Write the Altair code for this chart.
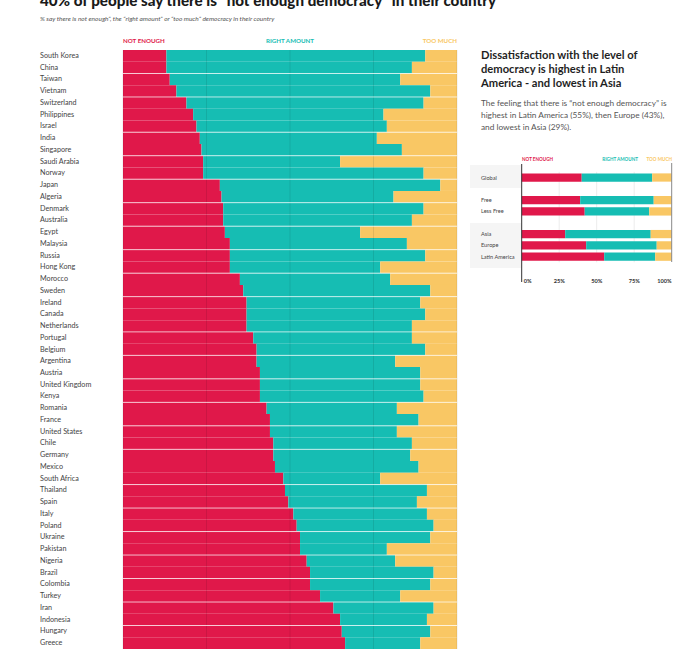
import altair as alt
import pandas as pd

countries = ["South Korea", "China", "Taiwan", "Vietnam", "Switzerland", "Philippines", "Israel",
             "India", "Singapore", "Saudi Arabia", "Norway", "Japan", "Algeria", "Denmark",
             "Australia", "Egypt", "Malaysia", "Russia", "Hong Kong", "Morocco", "Sweden",
             "Ireland", "Canada", "Netherlands", "Portugal", "Belgium", "Argentina", "Austria",
             "United Kingdom", "Kenya", "Romania", "France", "United States", "Chile", "Germany",
             "Mexico", "South Africa", "Thailand", "Spain", "Italy", "Poland", "Ukraine",
             "Pakistan", "Nigeria", "Brazil", "Colombia", "Turkey", "Iran", "Indonesia",
             "Hungary", "Greece"]
not_enough = [13, 13, 14, 16, 19, 21, 22, 23, 23.5, 24, 24, 29, 29.5, 30, 30, 30.5, 32, 32, 32,
              35, 36, 37, 37, 37, 39, 40, 40, 41, 41, 41, 43, 44, 44, 45, 45, 45.5, 48, 48.5,
              49.5, 51, 52, 53, 53, 55, 56, 56, 59, 63, 65, 65.5, 66.5]
right_amount = [77.5, 73.5, 69, 76, 71, 57, 57, 53, 60, 41, 66, 66, 51.5, 60, 56.5, 40.5, 53,
                58.5, 45, 45, 56, 52, 53.5, 49.5, 47.5, 50.5, 41.5, 48, 48, 49, 39, 44.5, 38,
                41.5, 41, 43, 29, 42.5, 38.5, 40, 41, 39, 26, 26.5, 37, 36, 24, 30, 26, 26.5,
                22.5]
too_much = [9.5, 13.5, 17, 8, 10, 22, 21, 24, 16.5, 35, 10, 5, 19, 10, 13.5, 29, 15, 9.5, 23,
            20, 8, 11, 9.5, 13.5, 13.5, 9.5, 18.5, 11, 11, 10, 18, 11.5, 18, 13.5, 14, 11.5,
            23, 9, 12, 9, 7, 8, 21, 18.5, 7, 8, 17, 7, 9, 8, 11]

inset_groups = ["Global", "Free", "Less Free", "Asia", "Europe", "Latin America"]
inset_not_enough = [40, 39, 42, 29, 43, 55]
inset_right_amount = [47, 49, 43, 57, 47, 34]
inset_too_much = [13, 12, 15, 14, 10, 11]

answers = ["Not enough", "Right amount", "Too much"]
headers = ["NOT ENOUGH", "RIGHT AMOUNT", "TOO MUCH"]
ticks = [0, 25, 50, 75, 100]
tick_labels = ["0%", "25%", "50%", "75%", "100%"]

# style
RED, TEAL, YELLOW = "#E0184A", "#16BDB3", "#F9C764"
FONT = "Lato"
W, H = 334, 599
separator_rows = [2, 4, 7, 9, 11, 13, 15, 17, 19, 21, 24, 26, 28, 30, 32, 34, 37, 39, 41, 43,
                  45, 47, 49]
inset_slots = ["Global", "gap1", "Free", "Less Free", "gap2", "Asia", "Europe", "Latin America"]

rows = []
for i, c in enumerate(countries):
    for j, v in enumerate([not_enough[i], right_amount[i], too_much[i]]):
        rows.append({"country": c, "answer": answers[j], "value": v, "order": j})
main_df = pd.DataFrame(rows)

irows = []
for i, g in enumerate(inset_groups):
    for j, v in enumerate([inset_not_enough[i], inset_right_amount[i], inset_too_much[i]]):
        irows.append({"group": g, "answer": answers[j], "value": v, "order": j})
inset_df = pd.DataFrame(irows)
tick_df = pd.DataFrame({"tick": ticks, "label": tick_labels})

color_scale = alt.Scale(domain=answers, range=[RED, TEAL, YELLOW])
mx = alt.Scale(domain=[0, 100], range=[0, W], nice=False, zero=False)
my = alt.Scale(domain=countries, paddingInner=0, paddingOuter=0)
ix = alt.Scale(domain=[0, 100], range=[398.7, 548.7], nice=False, zero=False)
iy = alt.Scale(domain=inset_slots, range=[121.85, 212.35], paddingInner=0.27, paddingOuter=0.135)

one = alt.Data(values=[{}])


def text_layer(lines, x, y, size, weight="normal", color="#333", align="left",
               baseline="alphabetic", style="normal", line_height=None):
    props = dict(align=align, baseline=baseline, fontSize=size, fontWeight=weight,
                 color=color, font=FONT, fontStyle=style)
    if line_height:
        props["lineHeight"] = line_height
    return alt.Chart(one).mark_text(**props).encode(
        x=alt.value(x), y=alt.value(y), text=alt.value(lines))


# ---------------- main chart ----------------
bars = alt.Chart(main_df).mark_bar().encode(
    y=alt.Y("country:N", scale=my, axis=None, sort=countries),
    x=alt.X("value:Q", stack="zero", scale=mx, axis=None),
    color=alt.Color("answer:N", scale=color_scale, legend=None),
    order=alt.Order("order:Q"),
)

grid = alt.Chart(tick_df).mark_rule(
    color="#000000", opacity=0.09, strokeWidth=1).encode(
    x=alt.X("tick:Q", scale=mx, axis=None))

sep_df = pd.DataFrame({"country": [countries[k] for k in separator_rows]})
seps = alt.Chart(sep_df).mark_rule(color="#ffffff", opacity=0.7, strokeWidth=1).encode(
    y=alt.Y("country:N", scale=my, axis=None, bandPosition=0, sort=countries))

labels = alt.Chart(pd.DataFrame({"country": countries})).mark_text(
    align="left", baseline="middle", fontSize=7.2, font=FONT, color="#444444").encode(
    y=alt.Y("country:N", scale=my, axis=None, sort=countries),
    x=alt.value(-83),
    text="country:N")

h1 = text_layer(headers[0], 0, -9, 6.2, "bold", RED, baseline="middle")
h2 = text_layer(headers[1], W * 0.5, -9, 6.2, "bold", TEAL, align="center", baseline="middle")
h3 = text_layer(headers[2], W, -9, 6.2, "bold", YELLOW, align="right", baseline="middle")

title = text_layer("40% of people say there is \u201cnot enough democracy\u201d in their country",
                   -83, -44.5, 15.2, 900, "#1a1a1a")
subtitle = text_layer("% say there is not enough\u201d, the \u201cright amount\u201d or \u201ctoo much\u201d "
                      "democracy in their country", -83, -29, 6.5, "normal", "#555555",
                      style="italic")

main = alt.layer(bars, grid, seps, labels, h1, h2, h3, title, subtitle)

# ---------------- inset ----------------
band1 = alt.Chart(one).mark_rect(color="#f5f5f5").encode(
    x=alt.value(347), x2=alt.value(398.7), y=alt.value(115), y2=alt.value(138))
band2 = alt.Chart(one).mark_rect(color="#f5f5f5").encode(
    x=alt.value(347), x2=alt.value(398.7), y=alt.value(173), y2=alt.value(218))

ibars = alt.Chart(inset_df).mark_bar().encode(
    y=alt.Y("group:N", scale=iy, axis=None),
    x=alt.X("value:Q", stack="zero", scale=ix, axis=None),
    color=alt.Color("answer:N", scale=color_scale, legend=None),
    order=alt.Order("order:Q"),
)

igrid = alt.Chart(tick_df.iloc[1:-1]).mark_rule(
    color="#000000", opacity=0.08).encode(
    x=alt.X("tick:Q", scale=ix, axis=None), y=alt.value(121.85), y2=alt.value(212.35))

ileft = alt.Chart(one).mark_rule(color="#333333", strokeWidth=1).encode(
    x=alt.XDatum(0, scale=ix, axis=None), y=alt.value(114), y2=alt.value(232))
iright = alt.Chart(one).mark_rule(color="#888888", strokeWidth=1).encode(
    x=alt.XDatum(100, scale=ix, axis=None), y=alt.value(113), y2=alt.value(212))


def tick_text(df, align, dx):
    return alt.Chart(df).mark_text(
        align=align, baseline="middle", fontSize=5.6, font=FONT, fontWeight="bold",
        color="#333333", dx=dx).encode(
        x=alt.X("tick:Q", scale=ix, axis=None), y=alt.value(231), text="label:N")


itick_first = tick_text(tick_df.iloc[:1], "left", 2)
itick_mid = tick_text(tick_df.iloc[1:-1], "center", 0)
itick_last = tick_text(tick_df.iloc[-1:], "right", 0)

ilabels = alt.Chart(pd.DataFrame({"group": inset_groups})).mark_text(
    align="left", baseline="middle", fontSize=5.6, font=FONT, color="#444444").encode(
    y=alt.Y("group:N", scale=iy, axis=None),
    x=alt.value(358),
    text="group:N")

ih1 = text_layer(headers[0], 399, 110, 4.6, "bold", RED, baseline="middle")
ih2 = text_layer(headers[1], 515, 110, 4.6, "bold", TEAL, align="right", baseline="middle")
ih3 = text_layer(headers[2], 549, 110, 4.6, "bold", YELLOW, align="right", baseline="middle")

rtitle = text_layer(["Dissatisfaction with the level of", "democracy is highest in Latin",
                     "America - and lowest in Asia"], 358, 9, 11.2, "bold", "#1f1f1f",
                    line_height=14)
rbody = text_layer(["The feeling that there is \u201cnot enough democracy\u201d is",
                    "highest in Latin America (55%), then Europe (43%),",
                    "and lowest in Asia (29%)."], 358, 56, 8.3, "normal", "#555555",
                   line_height=12)

inset = alt.layer(band1, band2, igrid, ibars, ileft, iright, itick_first, itick_mid,
                  itick_last, ilabels, ih1, ih2, ih3, rtitle, rbody)

chart = alt.layer(main, inset).resolve_scale(x="independent", y="independent").properties(
    width=W, height=H,
    autosize=alt.AutoSizeParams(type="none"),
    padding={"left": 123, "top": 50, "right": 219, "bottom": 1},
    background="#ffffff",
).configure_view(stroke=None)

chart.save("out.html", embed_options={"renderer": "svg", "actions": False})
